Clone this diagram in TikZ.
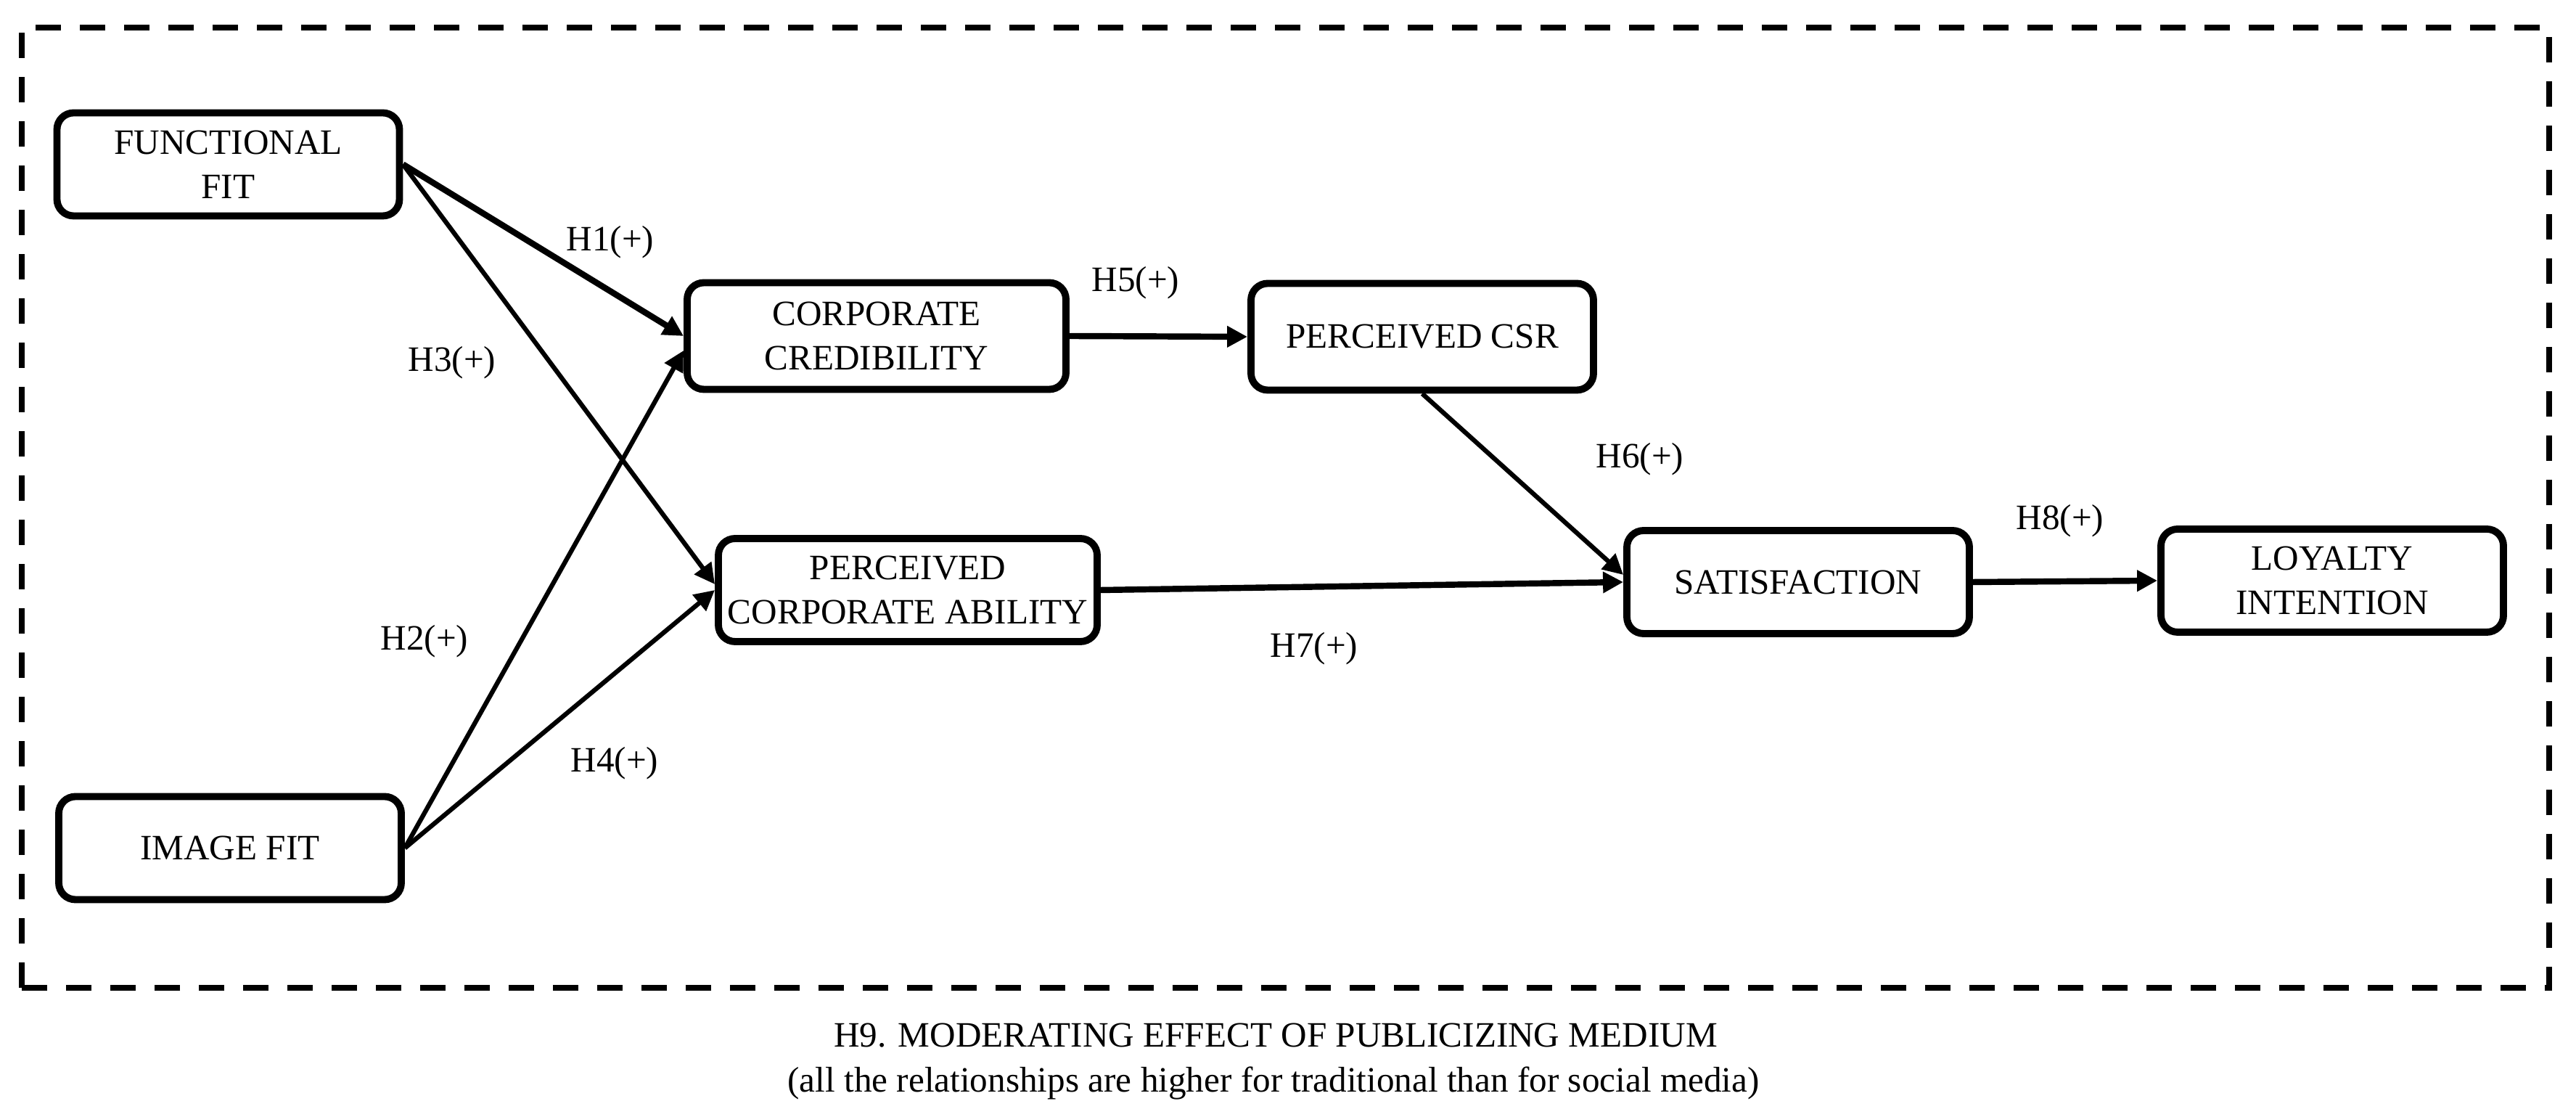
\documentclass[tikz,border=0pt]{standalone}
\usepackage{fontspec}
\setmainfont{Liberation Serif}
\usetikzlibrary{arrows.meta}

\begin{document}
\begin{tikzpicture}[
    box/.style={draw,line width=2.8pt,rounded corners=0.23cm,align=center,
      inner sep=0pt,minimum width=4.72cm,minimum height=1.42cm,
      font=\fontsize{14}{17.5}\selectfont},
    widebox/.style={box,minimum width=5.22cm},
    hyp/.style={font=\fontsize{14}{17}\selectfont,inner sep=1pt},
    strong/.style={line width=2.4pt,-{Triangle[length=0.28cm,width=0.28cm]}},
    weak/.style={line width=1.8pt,-{Triangle[length=0.28cm,width=0.28cm]}}
  ]

  \useasboundingbox (0,0) rectangle (35.5,15.39);
  \draw[line width=2.4pt,dash pattern=on 0.35cm off 0.26cm] (0.30,1.78) rectangle (35.13,15.01);

  \node (ff) at (3.145,13.125) [box] {FUNCTIONAL\\FIT};
  \node (imf) at (3.17,3.705) [box] {IMAGE FIT};
  \node (cc) at (12.08,10.76) [widebox,minimum height=1.47cm] {CORPORATE\\CREDIBILITY};
  \node (pca) at (12.51,7.26) [widebox] {PERCEIVED\\CORPORATE ABILITY};
  \node (csr) at (19.6,10.75) [box,minimum height=1.47cm] {PERCEIVED CSR};
  \node (sat) at (24.78,7.37) [box] {SATISFACTION};
  \node (li) at (32.14,7.39) [box] {LOYALTY\\INTENTION};

  \draw[strong] (ff.east) -- (cc.west);
  \draw[weak] (ff.east) -- ([yshift=0.08cm]pca.west);
  \draw[weak] (imf.east) -- ([yshift=-0.2cm]cc.west);
  \draw[weak] (imf.east) -- (pca.west);
  \draw[strong] (cc.east) -- (csr.west);
  \draw[weak] (csr.south) -- ([yshift=0.1cm]sat.west);
  \draw[strong] (pca.east) -- (sat.west);
  \draw[strong] (sat.east) -- (li.west);

  \node (h1) at (8.41,12.055) [hyp] {H1(+)};
  \node (h2) at (5.85,6.55) [hyp] {H2(+)};
  \node (h3) at (6.23,10.39) [hyp] {H3(+)};
  \node (h4) at (8.47,4.87) [hyp] {H4(+)};
  \node (h5) at (15.65,11.49) [hyp] {H5(+)};
  \node (h6) at (22.6,9.06) [hyp] {H6(+)};
  \node (h7) at (18.11,6.45) [hyp] {H7(+)};
  \node (h8) at (28.39,8.21) [hyp] {H8(+)};

  \node (h9) at (17.58,0.96) [hyp,anchor=base] {H9. MODERATING EFFECT OF PUBLICIZING MEDIUM};
  \node (note) at (17.55,0.34) [hyp,anchor=base] {(all the relationships are higher for traditional than for social media)};

\end{tikzpicture}
\end{document}
